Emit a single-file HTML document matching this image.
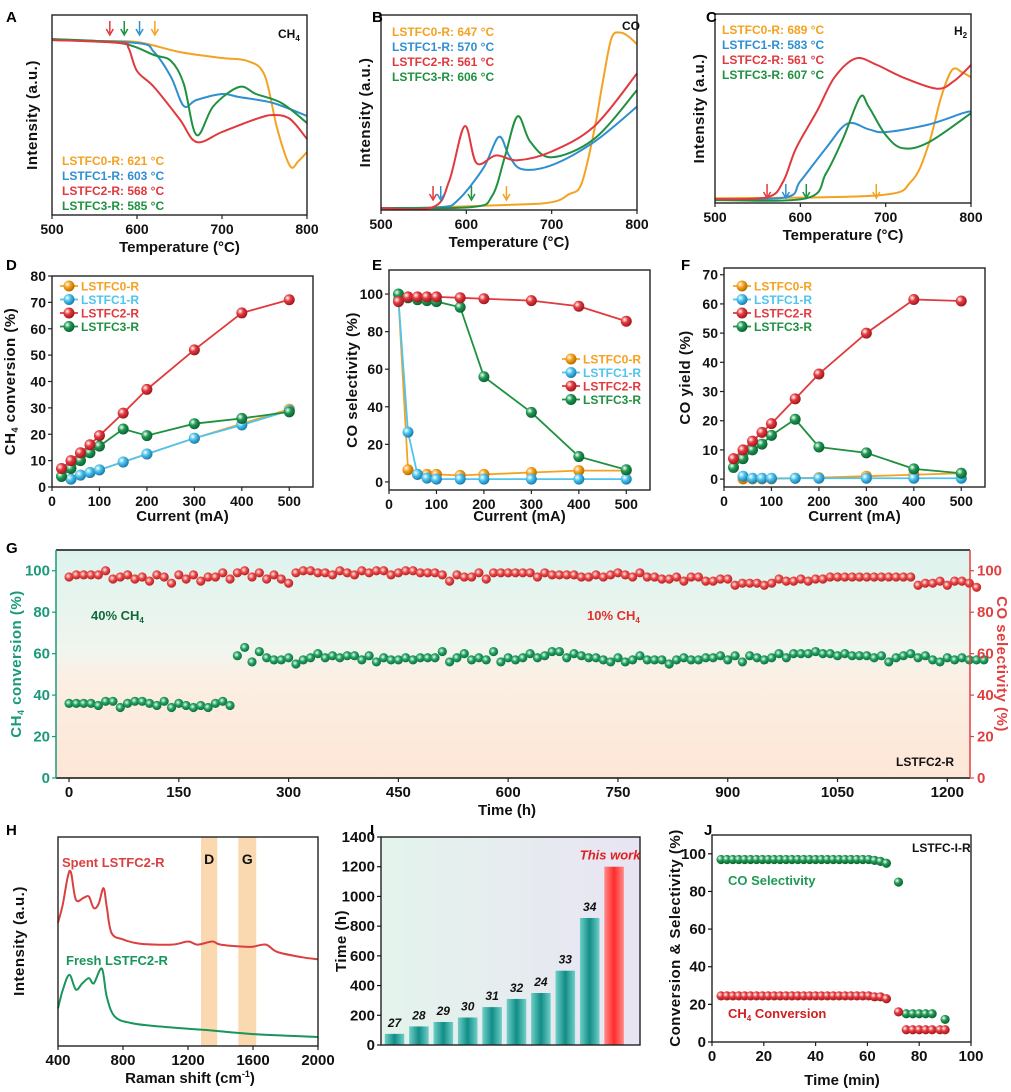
<!DOCTYPE html>
<html><head><meta charset="utf-8"><style>
html,body{margin:0;padding:0;background:#fff}
svg{display:block}
text{font-family:"Liberation Sans Narrow","Liberation Sans",sans-serif;font-weight:bold}
</style></head><body>
<svg id="fig" xmlns="http://www.w3.org/2000/svg" width="1011" height="1092" viewBox="0 0 1011 1092">
<defs>
<radialGradient id="gOr" cx="35%" cy="35%" r="65%"><stop offset="0" stop-color="#fff"/><stop offset="0.45" stop-color="#f7a21b"/><stop offset="1" stop-color="#b86e00"/></radialGradient>
<radialGradient id="gBl" cx="35%" cy="35%" r="65%"><stop offset="0" stop-color="#fff"/><stop offset="0.45" stop-color="#4cc3ee"/><stop offset="1" stop-color="#1a7fb0"/></radialGradient>
<radialGradient id="gRd" cx="35%" cy="35%" r="65%"><stop offset="0" stop-color="#fff"/><stop offset="0.45" stop-color="#e5393e"/><stop offset="1" stop-color="#a01a1e"/></radialGradient>
<radialGradient id="gGr" cx="35%" cy="35%" r="65%"><stop offset="0" stop-color="#fff"/><stop offset="0.45" stop-color="#1f9a55"/><stop offset="1" stop-color="#0c6432"/></radialGradient>
<radialGradient id="gTl" cx="40%" cy="40%" r="60%"><stop offset="0" stop-color="#e8fff2"/><stop offset="0.5" stop-color="#22a060"/><stop offset="1" stop-color="#0f7040"/></radialGradient>
<radialGradient id="gRl" cx="40%" cy="40%" r="60%"><stop offset="0" stop-color="#fff0f0"/><stop offset="0.5" stop-color="#ea4a4a"/><stop offset="1" stop-color="#b82020"/></radialGradient>
<linearGradient id="bgG" x1="0" y1="0" x2="0" y2="1"><stop offset="0" stop-color="#def3ee"/><stop offset="0.45" stop-color="#f1f5ee"/><stop offset="0.55" stop-color="#fcefe4"/><stop offset="1" stop-color="#fde6d6"/></linearGradient>
<linearGradient id="bgI" x1="0" y1="0" x2="1" y2="0"><stop offset="0" stop-color="#e4f4ec"/><stop offset="1" stop-color="#e8e4f3"/></linearGradient>
<linearGradient id="barT" x1="0" y1="0" x2="1" y2="0"><stop offset="0" stop-color="#6fd0c8"/><stop offset="0.5" stop-color="#118c86"/><stop offset="1" stop-color="#6fd0c8"/></linearGradient>
<linearGradient id="barR" x1="0" y1="0" x2="1" y2="0"><stop offset="0" stop-color="#ff8a8a"/><stop offset="0.5" stop-color="#ff2a2a"/><stop offset="1" stop-color="#ff8a8a"/></linearGradient>
</defs>
</svg>
<script>
// ---------- DATA ----------
const aTemps0=[500,550,600,650,700,730,750,765,780,790,800];
const aOrange=[0.875,0.87,0.865,0.815,0.785,0.77,0.70,0.43,0.245,0.27,0.315];
const aTemps1=[500,600,620,640,655,670,700,720,760,800];
const aBlue=[0.875,0.86,0.815,0.69,0.545,0.575,0.605,0.59,0.56,0.495];
const aTemps2=[500,580,590,600,620,650,670,700,740,760,780,800];
const aRed=[0.875,0.86,0.835,0.72,0.64,0.48,0.365,0.415,0.48,0.50,0.48,0.38];
const aTemps3=[500,580,620,640,655,670,690,720,740,770,800];
const aGreen=[0.88,0.86,0.80,0.77,0.655,0.40,0.545,0.64,0.605,0.56,0.46];
const aArrowT=[568,585,603,621];
const bTemps0=[500,650,700,720,735,750,760,770,780,790,800];
const bOrange=[0.005,0.026,0.04,0.08,0.135,0.41,0.66,0.88,0.91,0.89,0.85];
const bTemps1=[500,570,590,620,638,650,665,700,750,800];
const bBlue=[0.01,0.015,0.05,0.215,0.375,0.28,0.21,0.23,0.35,0.53];
const bTemps2=[500,561,580,598,612,635,660,700,750,800];
const bRed=[0.01,0.015,0.15,0.43,0.24,0.28,0.255,0.30,0.43,0.70];
const bTemps3=[500,606,630,645,660,675,700,750,800];
const bGreen=[0.01,0.015,0.07,0.27,0.48,0.35,0.27,0.365,0.615];
const bArrowT=[561,570,606,647];
const cTemps0=[500,690,730,750,765,778,790,800];
const cOrange=[0.025,0.04,0.115,0.305,0.56,0.705,0.69,0.665];
const cTemps1=[500,583,600,630,655,680,700,750,790,800];
const cBlue=[0.02,0.03,0.115,0.29,0.42,0.39,0.375,0.415,0.475,0.485];
const cTemps2=[500,561,580,595,620,640,665,690,720,760,780,800];
const cRed=[0.02,0.03,0.115,0.29,0.49,0.665,0.765,0.73,0.665,0.605,0.645,0.73];
const cTemps3=[500,607,630,650,670,680,700,720,750,800];
const cGreen=[0.015,0.025,0.155,0.34,0.56,0.51,0.36,0.29,0.32,0.475];
const cArrowT=[561,583,607,689];
const currents=[20,40,60,80,100,150,200,300,400,500];
const dOrange=[null,3,4.5,5.5,6.5,9.5,12.5,18.5,24,29.5];
const dBlue=[null,3,4.5,5.5,6.5,9.5,12.5,18.5,23.5,29];
const dRed=[7,10,13,16,19.5,28,37,52,66,71];
const dGreen=[4,7,10,13,15.5,22,19.5,24,26,28.5];
const eOrange=[97,6.5,4,4,4,3.5,4,5,6,6];
const eBlue=[97,26.5,4,2,1.5,1.5,1.5,1.5,1.5,1.5];
const eRed=[96,98.5,98.5,98.5,98.5,98,97.5,96.5,93.5,85.5];
const eGreen=[100,98,97,96.5,96,93,56,37,13.5,6.5];
const fOrange=[null,0.1,0.1,0.1,0.1,0.3,0.5,1,1.5,2];
const fBlue=[null,1,0.3,0.3,0.3,0.3,0.3,0.3,0.3,0.3];
const fRed=[7,10,13,16,19,27.5,36,50,61.5,61];
const fGreen=[4,7,10,12,15,20.5,11,9,3.5,2];
const gStep=10;
const gConv1Start=0;
const gConv1=[36,36,36,36,35,37,37,34,36,37,37,36,35,37,34,36,35,34,35,34,36,37,35];
const gConv2Start=230;
const gConv2=[59,63,56,61,58,57,57,58,55,57,58,60,58,59,58,59,59,57,59,56,58,57,57,58,57,58,58,58,61,56,58,60,57,58,57,61,56,58,57,58,60,58,59,61,61,58,60,59,58,58,57,56,58,56,57,59,57,57,57,55,57,58,57,57,58,58,59,57,59,56,59,58,57,58,60,58,60,60,60,61,60,60,59,60,59,59,59,58,59,56,58,59,60,58,59,57,56,58,57,58,57,57,57];
const gSel=[97,98,98,98,98,100,96,97,98,96,97,95,98,97,94,98,96,98,95,97,97,99,96,99,100,97,99,96,98,96,94,99,100,100,99,99,98,100,99,98,100,99,100,100,98,99,100,100,99,99,99,98,95,98,97,97,99,96,99,99,99,99,99,99,97,99,98,98,98,98,97,97,98,97,98,99,98,97,99,97,97,96,96,97,95,97,97,95,95,96,96,93,94,94,94,93,94,96,95,95,96,95,96,96,97,97,97,97,97,97,97,97,97,97,97,97,93,94,94,95,93,95,95,94,92];
const hSpentX=[400,430,460,480,510,560,590,620,650,680,700,730,800,900,1100,1200,1260,1350,1400,1550,1600,1680,1750,1900,2000];
const hSpentY=[0.59,0.68,0.81,0.83,0.70,0.71,0.715,0.66,0.68,0.755,0.665,0.54,0.51,0.49,0.485,0.50,0.485,0.50,0.485,0.475,0.475,0.485,0.45,0.425,0.415];
const hFreshX=[400,430,470,510,550,590,620,670,700,750,850,1000,1300,1600,2000];
const hFreshY=[0.18,0.27,0.34,0.27,0.30,0.325,0.30,0.37,0.235,0.14,0.11,0.095,0.077,0.057,0.043];
const hBands=[[1280,1380,'D'],[1510,1620,'G']];
const iLabels=['27','28','29','30','31','32','24','33','34','This work'];
const iValues=[75,125,155,185,255,310,350,500,855,1200];
const jStep=2.28;
const jStart=3.5;
const jSel=[97,97,97,97,97,97,97,97,97,97,97,97,97,97,97,97,97,97,97,97,97,97,97,97,97,97,96.5,96,95];
const jConv=[24.5,24.5,24.5,24.5,24.5,24.5,24.5,24.5,24.5,24.5,24.5,24.5,24.5,24.5,24.5,24.5,24.5,24.5,24.5,24.5,24.5,24.5,24.5,24.5,24.5,24.5,24,24,23];
const jTailT=[72,75,77.5,80,82.5,85,88,90];
const jTailSel=[85,15,15,15,15,15,null,12];
const jTailConv=[16,6.5,6.5,6.5,6.5,6.5,6.5,6.5];

// ---------- HELPERS ----------
const NS='http://www.w3.org/2000/svg';
const svg=document.getElementById('fig');
function add(tag,parent,a){const e=document.createElementNS(NS,tag);for(const k in a)e.setAttribute(k,a[k]);parent.appendChild(e);return e;}
function txt(parent,x,y,s,a){const t=add('text',parent,Object.assign({x:x,y:y},a||{}));t.textContent=s;return t;}
function panel(x0,x1,y0,y1,xmin,xmax,ymin,ymax){return {x0,x1,y0,y1,xmin,xmax,ymin,ymax,
  sx:v=>x0+(v-xmin)/(xmax-xmin)*(x1-x0), sy:v=>y1-(v-ymin)/(ymax-ymin)*(y1-y0)};}
function smoothPath(pts){let d='M'+pts[0][0].toFixed(1)+','+pts[0][1].toFixed(1);
  for(let i=0;i<pts.length-1;i++){const p0=pts[i-1]||pts[i],p1=pts[i],p2=pts[i+1],p3=pts[i+2]||p2;
   const c1=[p1[0]+(p2[0]-p0[0])/6,p1[1]+(p2[1]-p0[1])/6],c2=[p2[0]-(p3[0]-p1[0])/6,p2[1]-(p3[1]-p1[1])/6];
   d+='C'+c1[0].toFixed(1)+','+c1[1].toFixed(1)+' '+c2[0].toFixed(1)+','+c2[1].toFixed(1)+' '+p2[0].toFixed(1)+','+p2[1].toFixed(1);}
  return d;}
function frame(g,P,color){const r=add('rect',g,{x:P.x0,y:P.y0,width:P.x1-P.x0,height:P.y1-P.y0,fill:'none',stroke:color||'#222','stroke-width':1.4});
  
  }
function xTicks(g,P,ticks,fs){const ax=add('g',g,{});
  
  
  ticks.forEach(v=>{const x=P.sx(v);add('line',ax,{x1:x,x2:x,y1:P.y1,y2:P.y1+4,stroke:'#222','stroke-width':1.2});
   const t=txt(ax,x,P.y1+19,String(v),{'font-size':fs||14,'text-anchor':'middle',fill:'#111'});
   
   });}
function yTicks(g,P,ticks,side,color,fs){const ax=add('g',g,{});
  
  
  ticks.forEach(v=>{const y=P.sy(v);const x=side==='r'?P.x1:P.x0;const d=side==='r'?4:-4;
   add('line',ax,{x1:x,x2:x+d,y1:y,y2:y,stroke:color||'#222','stroke-width':1.2});
   const t=txt(ax,x+(side==='r'?7:-6),y+5,String(v),{'font-size':fs||14,'text-anchor':side==='r'?'start':'end',fill:color||'#111'});
   
   });}
function xTitle(g,x,y,s){const t=txt(g,x,y,s,{'font-size':15,'text-anchor':'middle',fill:'#111'});
  
  return t;}
function yTitle(g,x,y,s,color){const t=add('text',g,{x:0,y:0,transform:'translate('+x+','+y+') rotate(-90)','font-size':15,'text-anchor':'middle',fill:color||'#111','font-family':'Liberation Sans, sans-serif','letter-spacing':'0.5'});
  t.innerHTML=s;
  
  return t;}
function letter(s,x,y){const t=txt(svg,x,y,s,{'font-size':15,fill:'#000'});
  
  }
function curve(g,P,xs,ys,color,name){const pts=xs.map((x,i)=>[P.sx(x),P.sy(ys[i])]);
  const p=add('path',g,{d:smoothPath(pts),fill:'none',stroke:color,'stroke-width':2,'stroke-linejoin':'round'});
  
  }
function arrow(g,x,y,color){const a=add('g',g,{});
  
  
  add('line',a,{x1:x,x2:x,y1:y-14,y2:y-2,stroke:color,'stroke-width':1.5});
  add('path',a,{d:'M'+(x-3.5)+','+(y-6)+' L'+x+','+y+' L'+(x+3.5)+','+(y-6),fill:'none',stroke:color,'stroke-width':1.5});}
function legendText(g,x,y,s,color,fs){const t=txt(g,x,y,s,{'font-size':fs||12,fill:color});
  
  }

const OR='#f4a221',BL='#2f8fd0',RD='#e0393e',GR='#1f9140',LB='#4ec4ef';

// ---------- A, B, C ----------
function tpr(P,series,arrowT,arrowY,arrowC,legend,lx,ly,gas,gx,gy,yx,name){
  const g=add('g',svg,{});
  
  
  series.forEach(s=>curve(g,P,s[0],s[1],s[2],s[3]));
  arrowT.forEach((t,i)=>arrow(g,P.sx(t),arrowY[i],arrowC[i]));
  frame(g,P);xTicks(g,P,[500,600,700,800]);
  legend.forEach((s,i)=>legendText(g,lx,ly+i*15,s[0],s[1]));
  const gt=txt(g,gx,gy,'',{'font-size':12,fill:'#111'});gt.innerHTML=gas;
  
  
  xTitle(g,(P.x0+P.x1)/2,P.y1+37,'Temperature (°C)');
  yTitle(g,yx,(P.y0+P.y1)/2,'Intensity (a.u.)');
}
const PA=panel(52,307,15,215,500,800,0,1);
tpr(PA,[[aTemps0,aOrange,OR,'line-lstfc0'],[aTemps1,aBlue,BL,'line-lstfc1'],[aTemps3,aGreen,GR,'line-lstfc3'],[aTemps2,aRed,RD,'line-lstfc2']],
 aArrowT,[35,35,35,35],[RD,GR,BL,OR],[['LSTFC0-R: 621 °C',OR],['LSTFC1-R: 603 °C',BL],['LSTFC2-R: 568 °C',RD],['LSTFC3-R: 585 °C',GR]],62,165,'CH<tspan font-size="8" dy="3">4</tspan>',278,38,37,'panel-a');
const PB=panel(381,637,15,210,500,800,0,1);
tpr(PB,[[bTemps0,bOrange,OR,'line-lstfc0'],[bTemps1,bBlue,BL,'line-lstfc1'],[bTemps3,bGreen,GR,'line-lstfc3'],[bTemps2,bRed,RD,'line-lstfc2']],
 bArrowT,[200,200,200,200],[RD,BL,GR,OR],[['LSTFC0-R: 647 °C',OR],['LSTFC1-R: 570 °C',BL],['LSTFC2-R: 561 °C',RD],['LSTFC3-R: 606 °C',GR]],392,36,'CO',622,30,370,'panel-b');
const PC=panel(715,971,14,203,500,800,0,1);
tpr(PC,[[cTemps0,cOrange,OR,'line-lstfc0'],[cTemps1,cBlue,BL,'line-lstfc1'],[cTemps3,cGreen,GR,'line-lstfc3'],[cTemps2,cRed,RD,'line-lstfc2']],
 cArrowT,[198,198,198,198],[RD,BL,GR,OR],[['LSTFC0-R: 689 °C',OR],['LSTFC1-R: 583 °C',BL],['LSTFC2-R: 561 °C',RD],['LSTFC3-R: 607 °C',GR]],722,34,'H<tspan font-size="8" dy="3">2</tspan>',954,35,704,'panel-c');

// ---------- D, E, F ----------
function markerSeries(g,P,xs,ys,grad,color,name,r){const sg=add('g',g,{});
  
  
  const pts=[];xs.forEach((x,i)=>{if(ys[i]!==null)pts.push([P.sx(x),P.sy(ys[i])]);});
  if(color)add('polyline',sg,{points:pts.map(p=>p.join(',')).join(' '),fill:'none',stroke:color,'stroke-width':1.8});
  pts.forEach(p=>{const c=add('circle',sg,{cx:p[0],cy:p[1],r:r||5.5,fill:'url(#'+grad+')'});
   
   });}
function legMarker(g,x,y,grad,color,s){const lg=add('g',g,{});
  
  
  add('line',lg,{x1:x,x2:x+18,y1:y,y2:y,stroke:color,'stroke-width':1.8});
  add('circle',lg,{cx:x+9,cy:y,r:5.5,fill:'url(#'+grad+')'});
  txt(lg,x+21,y+4.5,s,{'font-size':12,fill:color});}
function perf(P,sets,yt,lx,ly,ytitle,yx,name){const g=add('g',svg,{});
  
  
  sets.forEach(s=>markerSeries(g,P,currents,s[0],s[1],s[2],s[3]));
  frame(g,P);xTicks(g,P,[0,100,200,300,400,500]);yTicks(g,P,yt);
  [['gOr',OR,'LSTFC0-R'],['gBl',LB,'LSTFC1-R'],['gRd',RD,'LSTFC2-R'],['gGr',GR,'LSTFC3-R']].forEach((l,i)=>legMarker(g,lx,ly+i*13.5,l[0],l[1],l[2]));
  xTitle(g,(P.x0+P.x1)/2,521,'Current (mA)');
  yTitle(g,yx,(P.y0+P.y1)/2,ytitle);}
const PD=panel(52,313,276,487,0,550,0,80);
perf(PD,[[dOrange,'gOr',OR,'series-lstfc0'],[dBlue,'gBl',LB,'series-lstfc1'],[dGreen,'gGr',GR,'series-lstfc3'],[dRed,'gRd',RD,'series-lstfc2']],[0,10,20,30,40,50,60,70,80],60,286,'CH<tspan font-size="9" dy="3">4</tspan><tspan dy="-3"> conversion (%)</tspan>',15,'panel-d');
const PE=panel(389,650,270,490,0,550,-4.3,112.8);
perf(PE,[[eOrange,'gOr',OR,'series-lstfc0'],[eBlue,'gBl',LB,'series-lstfc1'],[eGreen,'gGr',GR,'series-lstfc3'],[eRed,'gRd',RD,'series-lstfc2']],[0,20,40,60,80,100],562,359,'CO selectivity (%)',357,'panel-e');
const PF=panel(724,985,268,487,0,550,-2.7,72.3);
perf(PF,[[fOrange,'gOr',OR,'series-lstfc0'],[fBlue,'gBl',LB,'series-lstfc1'],[fGreen,'gGr',GR,'series-lstfc3'],[fRed,'gRd',RD,'series-lstfc2']],[0,10,20,30,40,50,60,70],733,286,'CO yield (%)',690,'panel-f');

// ---------- G ----------
(function(){const P=panel(56,970,550,778,-17.8,1231,0,110);
  const g=add('g',svg,{});
  
  
  const bg=add('rect',g,{x:P.x0,y:P.y0,width:P.x1-P.x0,height:P.y1-P.y0,fill:'url(#bgG)'});
  
  
  markerSeries(g,P,gSel.map((v,i)=>i*gStep),gSel,'gRl',null,'series-co-selectivity',4.6);
  markerSeries(g,P,gConv1.map((v,i)=>gConv1Start+i*gStep),gConv1,'gTl',null,'series-ch4-conversion-40',4.6);
  markerSeries(g,P,gConv2.map((v,i)=>gConv2Start+i*gStep),gConv2,'gTl',null,'series-ch4-conversion-10',4.6);
  add('line',g,{x1:P.x0,x2:P.x1,y1:P.y0,y2:P.y0,stroke:'#111','stroke-width':1.5});
  add('line',g,{x1:P.x0,x2:P.x1,y1:P.y1,y2:P.y1,stroke:'#111','stroke-width':1.5});
  add('line',g,{x1:P.x0,x2:P.x0,y1:P.y0,y2:P.y1,stroke:'#1a9a7a','stroke-width':1.5});
  add('line',g,{x1:P.x1,x2:P.x1,y1:P.y0,y2:P.y1,stroke:'#e04040','stroke-width':1.5});
  xTicks(g,P,[0,150,300,450,600,750,900,1050,1200],15);
  yTicks(g,P,[0,20,40,60,80,100],'l','#1a9a7a',15);
  yTicks(g,P,[0,20,40,60,80,100],'r','#e04040',15);
  xTitle(g,507,815,'Time (h)');
  yTitle(g,21,664,'CH<tspan font-size="9" dy="3">4</tspan><tspan dy="-3"> conversion (%)</tspan>','#1a9a7a');
  const rt=add('text',g,{x:0,y:0,transform:'translate(997,664) rotate(90)','font-size':15,'text-anchor':'middle',fill:'#e04040','font-family':'Liberation Sans, sans-serif','letter-spacing':'0.5'});
  rt.textContent='CO selectivity (%)';
  
  
  const t1=txt(g,91,620,'',{'font-size':13,fill:'#0f6a3a'});t1.innerHTML='40% CH<tspan font-size="8" dy="3">4</tspan>';
  
  
  const t2=txt(g,587,620,'',{'font-size':13,fill:'#e03030'});t2.innerHTML='10% CH<tspan font-size="8" dy="3">4</tspan>';
  
  
  const t3=txt(g,896,766,'LSTFC2-R',{'font-size':12,fill:'#111'});
  
  
})();

// ---------- H ----------
(function(){const P=panel(58,318,837,1046,400,2000,0,1);
  const g=add('g',svg,{});
  
  
  hBands.forEach(b=>{const r=add('rect',g,{x:P.sx(b[0]),y:P.y0,width:P.sx(b[1])-P.sx(b[0]),height:P.y1-P.y0,fill:'#f9c98e',opacity:0.7});
   
   
   const t=txt(g,(P.sx(b[0])+P.sx(b[1]))/2,864,b[2],{'font-size':14,'text-anchor':'middle',fill:'#111'});
   
   });
  curve(g,P,hSpentX,hSpentY,'#d9403f','spectrum-spent');
  curve(g,P,hFreshX,hFreshY,'#17955a','spectrum-fresh');
  frame(g,P);xTicks(g,P,[400,800,1200,1600,2000],15);
  const a=txt(g,62,867,'Spent LSTFC2-R',{'font-size':13,fill:'#d9403f'});
  
  
  const b=txt(g,66,965,'Fresh LSTFC2-R',{'font-size':13,fill:'#17955a'});
  
  
  const xt=txt(g,190,1083,'',{'font-size':15,'text-anchor':'middle',fill:'#111'});xt.innerHTML='Raman shift (cm<tspan font-size="9" dy="-6">-1</tspan><tspan dy="6">)</tspan>';
  
  
  yTitle(g,24,941,'Intensity (a.u.)');
})();

// ---------- I ----------
(function(){const P=panel(381,640,837,1045,0,10,0,1400);
  const g=add('g',svg,{});
  
  
  const bg=add('rect',g,{x:P.x0,y:P.y0,width:P.x1-P.x0,height:P.y1-P.y0,fill:'url(#bgI)'});
  
  
  const bw=(P.x1-P.x0)/10.6*0.8;
  iValues.forEach((v,i)=>{const cx=P.x0+13.5+i*24.4;const last=i===iValues.length-1;
   const r=add('rect',g,{x:cx-bw/2,y:P.sy(v),width:bw,height:P.y1-P.sy(v),fill:last?'url(#barR)':'url(#barT)'});
   
   
   const t=txt(g,last?cx-4:cx,P.sy(v)-7,iLabels[i],{'font-size':last?13:12,'text-anchor':'middle','font-style':'italic',fill:last?'#e02020':'#111'});
   
   });
  frame(g,P);yTicks(g,P,[0,200,400,600,800,1000,1200,1400],'l','#111',15);
  yTitle(g,346,941,'Time (h)');
})();

// ---------- J ----------
(function(){const P=panel(712,971,835,1042,0,100,0,110);
  const g=add('g',svg,{});
  
  
  markerSeries(g,P,jSel.map((v,i)=>jStart+i*jStep),jSel,'gGr',null,'series-co-selectivity',4.6);
  markerSeries(g,P,jConv.map((v,i)=>jStart+i*jStep),jConv,'gRd',null,'series-ch4-conversion',4.6);
  markerSeries(g,P,jTailT,jTailSel,'gGr',null,'series-co-selectivity-tail',4.6);
  markerSeries(g,P,jTailT,jTailConv,'gRd',null,'series-ch4-conversion-tail',4.6);
  frame(g,P);xTicks(g,P,[0,20,40,60,80,100],15);yTicks(g,P,[0,20,40,60,80,100],'l','#111',15);
  xTitle(g,842,1085,'Time (min)');
  yTitle(g,680,938,'Conversion &amp; Selectivity (%)');
  const a=txt(g,728,885,'CO Selectivity',{'font-size':13,fill:'#1f9a55'});
  
  
  const b=txt(g,728,1018,'',{'font-size':13,fill:'#d02020'});b.innerHTML='CH<tspan font-size="8" dy="3">4</tspan><tspan dy="-3"> Conversion</tspan>';
  
  
  const c=txt(g,912,852,'LSTFC-I-R',{'font-size':12,fill:'#111'});
  
  
})();

// ---------- panel letters ----------
[['A',6,22],['B',372,22],['C',706,22],['D',6,270],['E',372,270],['F',681,270],['G',6,553],['H',6,835],['I',370,835],['J',704,835]].forEach(l=>letter(l[0],l[1],l[2]));
</script>
</body></html>
